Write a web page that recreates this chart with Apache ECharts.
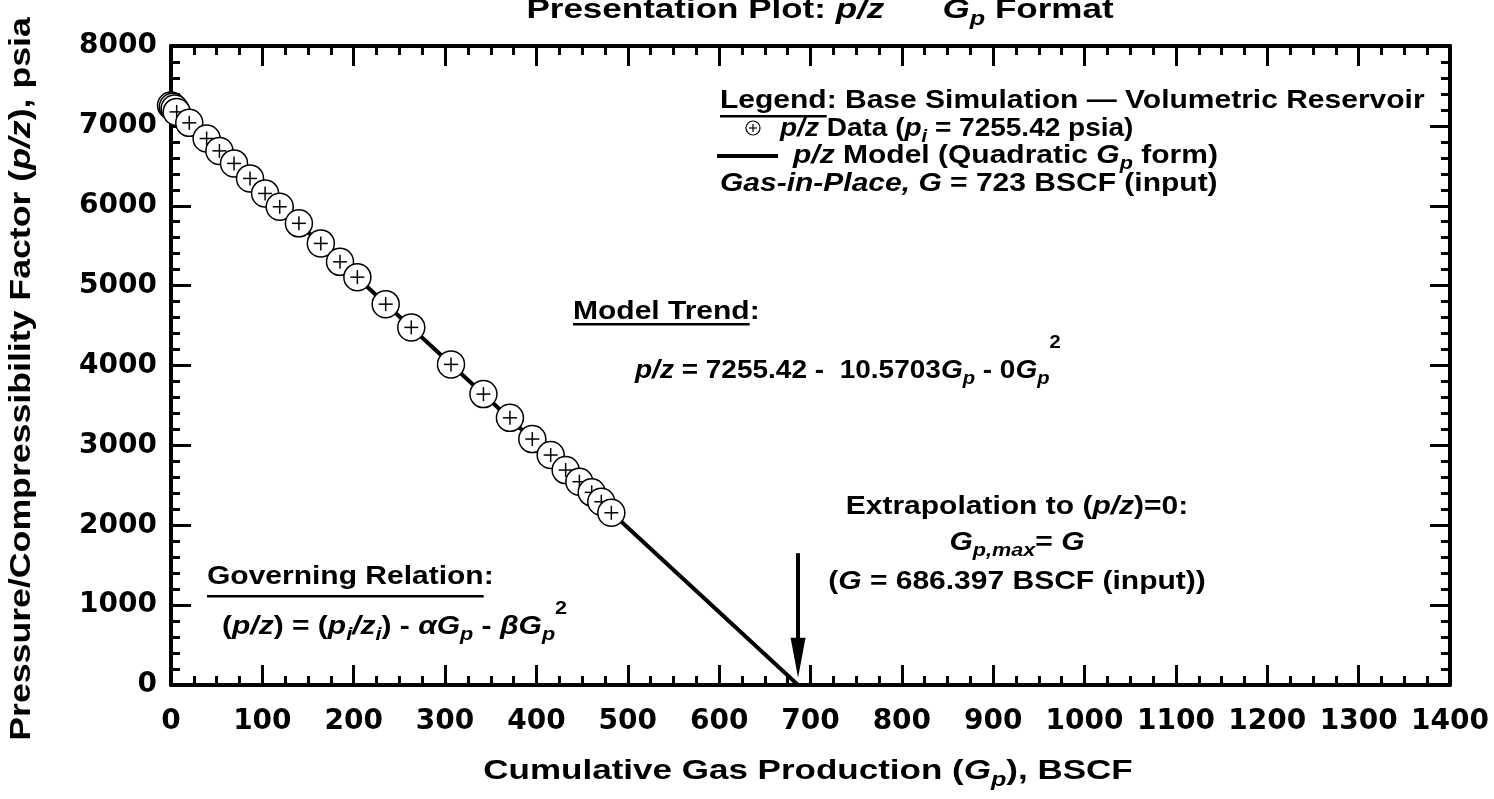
<!DOCTYPE html>
<html lang="en">

<head>
  <meta charset="UTF-8">
  <title>p/z vs Gp</title>
  <script src="https://cdn.jsdelivr.net/npm/echarts@6/dist/echarts.min.js"></script>
  <style>
    html, body { margin: 0; padding: 0; background: #fff; }
    #chart { width: 1494px; height: 799px; }
  </style>
</head>

<body>
  <div id="chart"></div>

  <script>
    // p/z data
    const gpData = [0, 2, 4, 6.2, 20, 39, 53, 69, 86.5, 103, 119, 140, 164, 185, 204, 235, 263, 306.5, 342, 371, 395.5, 415.6, 432, 447, 460.5, 471, 482]
    const pzData = [7255, 7238, 7218, 7175, 7038, 6842, 6687, 6530, 6342, 6154, 5987, 5780, 5528, 5298, 5106, 4768, 4477, 4014, 3642, 3345, 3079, 2879, 2691, 2545, 2412, 2294, 2156]

    // model line end points (p/z intercept and extrapolated G)
    const modelGp = [0, 686.397]
    const modelPz = [7255.42, 0]

    // axes
    const xMin = 0, xMax = 1400, xStep = 100
    const yMin = 0, yMax = 8000, yStep = 1000

    // the original text is a wide Helvetica bold: Arial metrics stretched sideways
    const FONT = 'Liberation Sans, Arial, sans-serif'
    const TICK_FONT = 'DejaVu Sans, sans-serif'
    const WIDE = 1.2
    const black = '#000'

    const points = gpData.map((g, i) => [g, pzData[i]])
    const model = modelGp.map((g, i) => [g, modelPz[i]])

    // rich text styles used in all annotations
    function richStyles(size, supRaise) {
      const s = size * 0.72
      return {
        b: { fontSize: size, fontWeight: 'bold', fontFamily: FONT, fill: black },
        i: { fontSize: size, fontWeight: 'bold', fontStyle: 'italic', fontFamily: FONT, fill: black },
        sub: { fontSize: s, fontWeight: 'bold', fontStyle: 'italic', fontFamily: FONT, fill: black, padding: [size * 0.66, 0, 0, 0] },
        sup: { fontSize: s, fontWeight: 'bold', fontFamily: FONT, fill: black, padding: [0, 0, (supRaise || 18) * 2, 0] }
      }
    }

    const measureCtx = document.createElement('canvas').getContext('2d')
    function textWidth(str, size) {
      measureCtx.font = 'bold ' + size + 'px ' + FONT
      return measureCtx.measureText(str).width
    }

    function richText(x, y, text, size, opts) {
      opts = opts || {}
      return {
        type: 'text', x: x, y: y, z: 10,
        scaleX: opts.scale || WIDE,
        rotation: opts.rotation || 0,
        style: {
          text: text, rich: richStyles(size, opts.supRaise), align: opts.align || 'left', verticalAlign: 'middle',
          font: 'bold ' + size + 'px ' + FONT, fill: black
        }
      }
    }

    // heading with underline, e.g. "Legend:"
    function heading(x, y, word, rest, size, ulOffset) {
      const w = textWidth(word, size) * WIDE
      return [
        richText(x, y, '{b|' + word + '}{b|' + rest + '}', size),
        { type: 'rect', z: 10, shape: { x: x, y: y + ulOffset, width: w, height: 2.5 }, style: { fill: black } }
      ]
    }

    const S = 25
    const graphics = [].concat(
      // title (cropped at top of the image)
      [richText(820, 10, '{b|Presentation Plot: }{i|p/z}{b|      }{i|G}{sub|p}{b| Format}', 28, { align: 'center', scale: 1.25 })],
      // axis titles
      [richText(22, 379, '{b|Pressure/Compressibility Factor (}{i|p/z}{b|), psia}', 29, { align: 'center', scale: 1.23, rotation: Math.PI / 2 }),
       richText(808, 771, '{b|Cumulative Gas Production (}{i|G}{sub|p}{b|), BSCF}', 28, { align: 'center', scale: 1.25 })],
      // legend block
      heading(720, 101, 'Legend', ': Base Simulation \u2014 Volumetric Reservoir', S, 14),
      [{ type: 'circle', z: 10, shape: { cx: 753, cy: 128, r: 7 }, style: { fill: '#fff', stroke: black, lineWidth: 1.2 } },
       { type: 'line', z: 10, shape: { x1: 749, y1: 128, x2: 757, y2: 128 }, style: { stroke: black, lineWidth: 1.2 } },
       { type: 'line', z: 10, shape: { x1: 753, y1: 124, x2: 753, y2: 132 }, style: { stroke: black, lineWidth: 1.2 } },
       richText(780, 129, '{i|p/z}{b| Data (}{i|p}{sub|i}{b| = 7255.42 psia)}', S, { scale: 1.12 }),
       { type: 'line', z: 10, shape: { x1: 717, y1: 156, x2: 778, y2: 156 }, style: { stroke: black, lineWidth: 4 } },
       richText(793, 156, '{i|p/z}{b| Model (Quadratic }{i|G}{sub|p}{b| form)}', S),
       richText(720, 184, '{i|Gas-in-Place, G}{b| = 723 BSCF (input)}', S)],
      // model trend
      heading(573, 312, 'Model Trend', ':', S, 11),
      [richText(635, 371, '{i|p/z}{b| = 7255.42 -  10.5703}{i|G}{sub|p}{b| - 0}{i|G}{sub|p}{sup|2}', S, { scale: 1.12, supRaise: 28 })],
      // governing relation
      heading(207, 577, 'Governing Relation', ':', S, 18),
      [richText(222, 627, '{b|(}{i|p/z}{b|) = (}{i|p}{sub|i}{i|/z}{sub|i}{b|) - }{i|\u03b1G}{sub|p}{b| - }{i|\u03b2G}{sub|p}{sup|2}', S, { scale: 1.2, supRaise: 18 })],
      // extrapolation note
      [richText(1017, 507, '{b|Extrapolation to (}{i|p/z}{b|)=0:}', S, { align: 'center' }),
       richText(1017, 543, '{i|G}{sub|p,max}{b|= }{i|G}', S, { align: 'center' }),
       richText(1017, 582, '{b|(}{i|G}{b| = 686.397 BSCF (input))}', S, { align: 'center' })]
    )

    function axisCommon(show) {
      return {
        axisLine: { show: true, onZero: false, lineStyle: { color: black, width: 4 } },
        axisTick: { show: true, inside: true, length: 20, lineStyle: { color: black, width: 3 } },
        minorTick: { show: true, length: 9, lineStyle: { color: black, width: 3 } },
        splitLine: { show: false },
        axisLabel: {
          show: show, color: black, fontSize: 28, fontWeight: 'bold', fontFamily: TICK_FONT,
          formatter: v => String(v)
        }
      }
    }

    function xAxis(pos, show) {
      const a = Object.assign({ type: 'value', position: pos, min: xMin, max: xMax, interval: xStep }, axisCommon(show))
      a.minorTick.splitNumber = 4
      a.axisLabel.margin = 23
      return a
    }
    function yAxis(pos, show) {
      const a = Object.assign({ type: 'value', position: pos, min: yMin, max: yMax, interval: yStep }, axisCommon(show))
      a.minorTick.splitNumber = 5
      a.axisLabel.margin = 14
      return a
    }

    const chart = echarts.init(document.getElementById('chart'))
    chart.setOption({
      backgroundColor: '#fff',
      animation: false,
      grid: { left: 171, right: 44, top: 46, bottom: 114, containLabel: false, outerBoundsMode: 'none' },
      xAxis: [xAxis('bottom', true), xAxis('top', false)],
      yAxis: [yAxis('left', true), yAxis('right', false)],
      graphic: graphics,
      series: [
        {
          name: 'p/z Model',
          type: 'line',
          data: model,
          showSymbol: false,
          lineStyle: { color: black, width: 4 },
          z: 2,
          markLine: {
            silent: true,
            symbol: ['none', 'triangle'],
            symbolSize: [15, 40],
            lineStyle: { color: black, width: 4, type: 'solid' },
            label: { show: false },
            data: [[{ coord: [modelGp[1], 1650] }, { coord: [modelGp[1], 340] }]]
          }
        },
        {
          name: 'p/z Data',
          type: 'custom',
          data: points,
          z: 3,
          renderItem: function (params, api) {
            const p = api.coord([api.value(0), api.value(1)])
            return {
              type: 'group',
              children: [
                { type: 'circle', shape: { cx: p[0], cy: p[1], r: 13.5 }, style: { fill: '#fff', stroke: black, lineWidth: 1.5 } },
                { type: 'line', shape: { x1: p[0] - 7, y1: p[1], x2: p[0] + 7, y2: p[1] }, style: { stroke: black, lineWidth: 1.5 } },
                { type: 'line', shape: { x1: p[0], y1: p[1] - 7, x2: p[0], y2: p[1] + 7 }, style: { stroke: black, lineWidth: 1.5 } }
              ]
            }
          }
        }
      ]
    })
  </script>
</body>

</html>
